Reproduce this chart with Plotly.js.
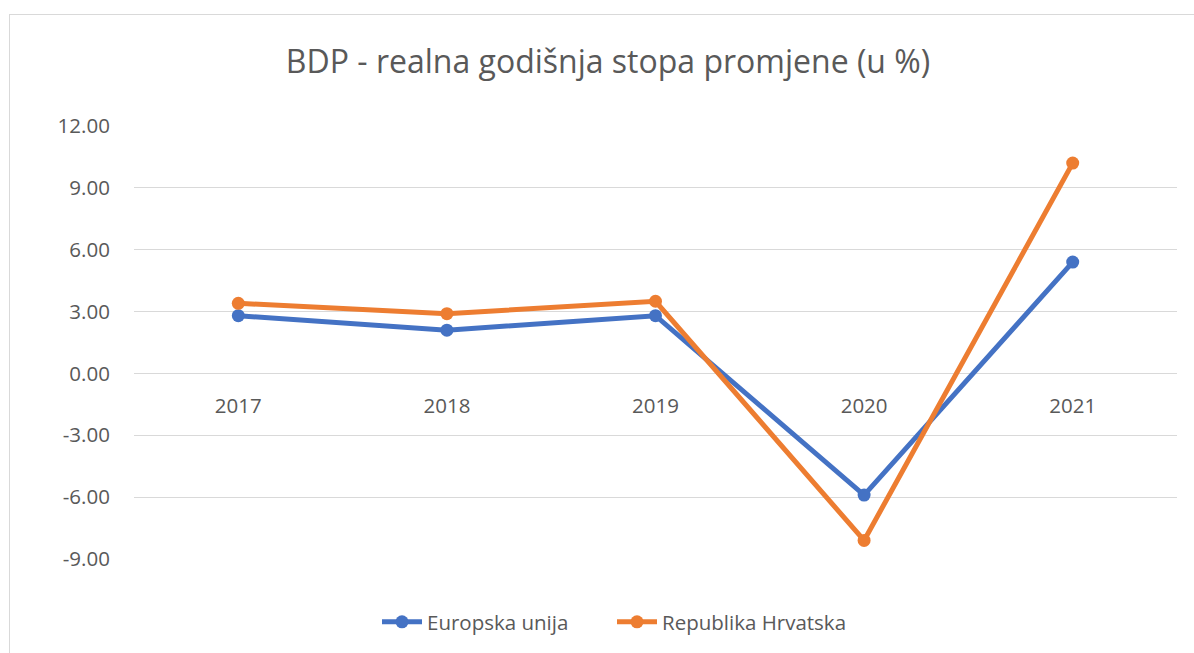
<!DOCTYPE html>
<html>
<head>
<meta charset="utf-8">
<script src="https://cdn.plot.ly/plotly-3.0.1.min.js"></script>
<style>
  html, body { margin: 0; padding: 0; background: #fff; overflow: hidden; }
  #chart { position: absolute; left: 0; top: 0; width: 1194px; height: 653px; }
  #frame { position: absolute; left: 9px; top: 14px; width: 1300px; height: 800px;
           border: 1px solid #d9d9d9; pointer-events: none; }
</style>
</head>
<body>
<div id="chart"></div>
<div id="frame"></div>
<script>
const years = ['2017', '2018', '2019', '2020', '2021'];
const euValues = [2.8, 2.1, 2.8, -5.9, 5.4];
const hrValues = [3.4, 2.9, 3.5, -8.1, 10.2];
const seriesNames = ['Europska unija', 'Republika Hrvatska'];
const yTickVals = [-9, -6, -3, 0, 3, 6, 9, 12];
const yTickText = ['-9.00', '-6.00', '-3.00', '0.00', '3.00', '6.00', '9.00', '12.00'];
const titleText = 'BDP - realna godišnja stopa promjene (u %)';

const font = 'Open Sans, Liberation Sans, sans-serif';
const grey = '#595959';

const traces = [
  { x: years, y: euValues, name: seriesNames[0], type: 'scatter', mode: 'lines+markers',
    line: { color: '#4472C4', width: 5 }, marker: { color: '#4472C4', size: 13 } },
  { x: years, y: hrValues, name: seriesNames[1], type: 'scatter', mode: 'lines+markers',
    line: { color: '#ED7D31', width: 5 }, marker: { color: '#ED7D31', size: 13 } }
];

const layout = {
  width: 1194, height: 653,
  paper_bgcolor: '#fff', plot_bgcolor: '#fff',
  margin: { l: 134, r: 17, t: 126, b: 94 },
  font: { family: font, color: grey },
  title: { text: titleText, x: 608/1194, xanchor: 'center', y: 1 - 62/653, yanchor: 'middle',
           yref: 'container', xref: 'container', font: { size: 32, color: grey, family: font } },
  xaxis: { type: 'category', range: [-0.5, 4.5], showgrid: false, zeroline: false, showline: false,
           anchor: 'free', position: 9/21, ticks: 'outside', ticklen: 14, tickcolor: 'rgba(0,0,0,0)',
           tickfont: { size: 20.5, color: grey, family: font } },
  yaxis: { range: [-9, 12], tickvals: yTickVals, ticktext: yTickText, showgrid: true,
           gridcolor: '#d9d9d9', gridwidth: 1, zeroline: false, showline: false,
           ticks: 'outside', ticklen: 19, tickcolor: 'rgba(0,0,0,0)',
           tickfont: { size: 20.5, color: grey, family: font } },
  showlegend: true,
  legend: { orientation: 'h', xref: 'container', yref: 'container', x: 612/1194, xanchor: 'center',
            y: 1 - 622/653, yanchor: 'middle', font: { size: 20.5, color: grey, family: font },
            itemwidth: 40, entrywidth: 180, bgcolor: 'rgba(0,0,0,0)' }
};

Plotly.newPlot('chart', traces, layout, { displayModeBar: false, staticPlot: true });
</script>
</body>
</html>
